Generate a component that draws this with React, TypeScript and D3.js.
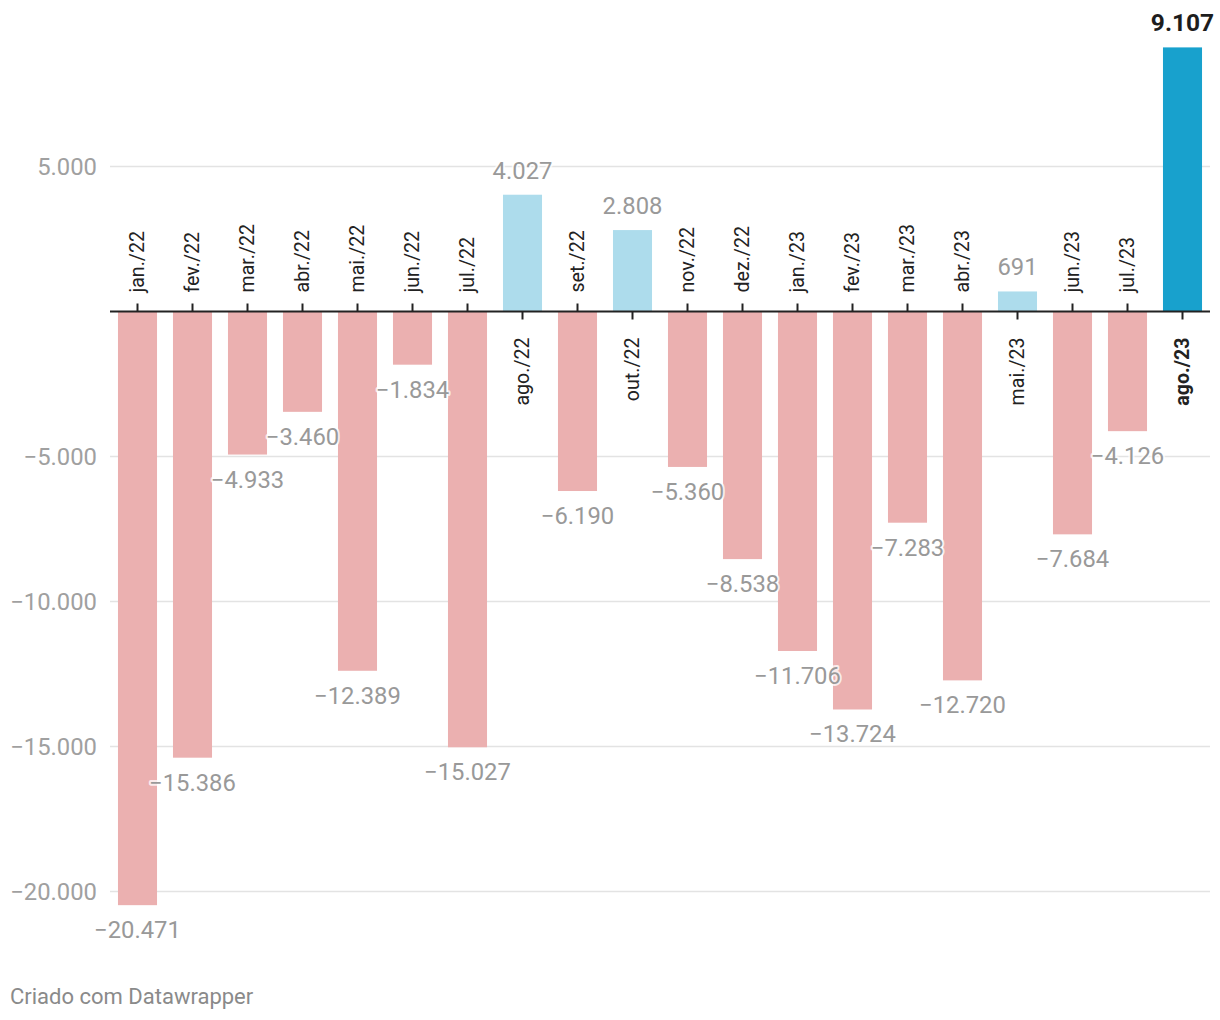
import React from "react";
import * as d3 from "d3";

const months = ["jan./22","fev./22","mar./22","abr./22","mai./22","jun./22","jul./22","ago./22","set./22","out./22","nov./22","dez./22","jan./23","fev./23","mar./23","abr./23","mai./23","jun./23","jul./23","ago./23"];
const values = [-20471,-15386,-4933,-3460,-12389,-1834,-15027,4027,-6190,2808,-5360,-8538,-11706,-13724,-7283,-12720,691,-7684,-4126,9107];
const yTicks = [5000, -5000, -10000, -15000, -20000];
const highlight = "ago./23";

const fmt = (v: number) => {
  const s = d3.format(",")(Math.abs(v)).replace(/,/g, ".");
  return (v < 0 ? "\u2212" : "") + s;
};

export default function App() {
  const W = 1220, H = 1020;
  const x = d3.scaleBand<string>().domain(months).range([110, 1210]).paddingInner(0.29).paddingOuter(0.145);
  const y = d3.scaleLinear().domain([-20000, 5000]).range([891.5, 166.5]);
  const y0 = y(0);
  const font = "Roboto, 'Noto Sans', sans-serif";
  const color = (m: string, v: number) => m === highlight ? "#18a1cd" : v >= 0 ? "#addcec" : "#ebb0b0";

  return (
    <svg width={W} height={H} style={{ position: "absolute", left: 0, top: 0, background: "#fff" }} fontFamily={font}>
      {yTicks.map(t => (
        <g key={t}>
          <line x1={110} x2={1210} y1={y(t)} y2={y(t)} stroke="#e3e3e3" strokeWidth={1.5} />
          <text x={97} y={y(t)} dy="0.36em" textAnchor="end" fontSize={23.8} fill="#a0a0a0">{fmt(t)}</text>
        </g>
      ))}
      {months.map((m, i) => {
        const v = values[i];
        const bx = x(m)!;
        const yt = Math.min(y(v), y0);
        const h = Math.abs(y(v) - y0);
        return <rect key={m} x={bx} y={yt} width={x.bandwidth()} height={h} fill={color(m, v)} />;
      })}
      <line x1={110} x2={1210} y1={y0} y2={y0} stroke="#222" strokeWidth={2} />
      {months.map((m, i) => {
        const v = values[i];
        const cx = x(m)! + x.bandwidth() / 2;
        const neg = v < 0;
        const hl = m === highlight;
        return (
          <g key={m + "t"}>
            <line x1={cx} x2={cx} y1={y0} y2={neg ? y0 - 8 : y0 + 8} stroke="#222" strokeWidth={2} />
            <text transform={`translate(${cx},${neg ? y0 - 19 : y0 + 26}) rotate(-90)`} textAnchor={neg ? "start" : "end"} dy="0.35em" fontSize={19.6} fill="#222" fontWeight={hl ? 700 : 400}>{m}</text>
          </g>
        );
      })}
      {months.map((m, i) => {
        const v = values[i];
        const cx = x(m)! + x.bandwidth() / 2;
        const neg = v < 0;
        const hl = m === highlight;
        const ty = neg ? y(v) + 33 : y(v) - 16;
        return (
          <text key={m + "v"} x={cx} y={ty} textAnchor="middle" fontSize={hl ? 24.5 : 23.8} fill={hl ? "#1d1d1d" : "#999"} fontWeight={hl ? 700 : 400}
            stroke="#fff" strokeOpacity={0.75} strokeWidth={4} strokeLinejoin="round" style={{ paintOrder: "stroke" }}>{fmt(v)}</text>
        );
      })}
      <text x={10} y={1004} fontSize={22} fill="#8a8a8a">Criado com Datawrapper</text>
    </svg>
  );
}
